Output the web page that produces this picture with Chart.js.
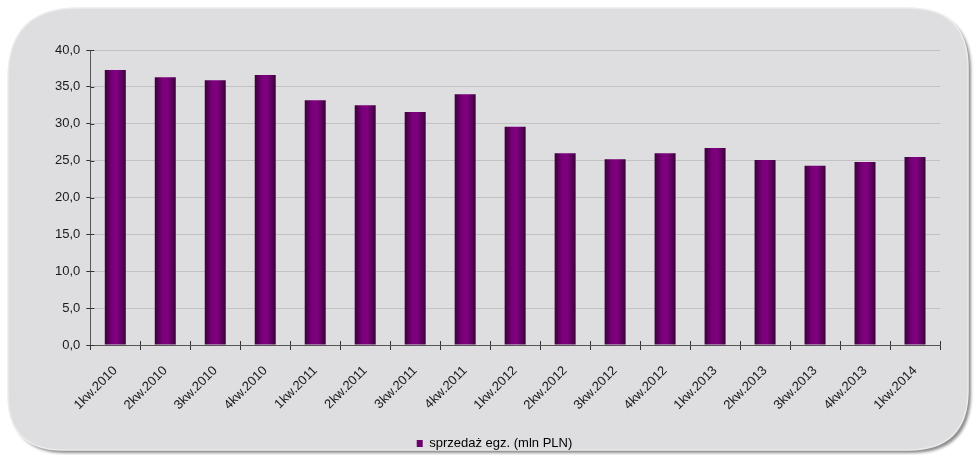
<!DOCTYPE html>
<html>
<head>
<meta charset="utf-8">
<script src="https://cdn.jsdelivr.net/npm/chart.js@4.4.1/dist/chart.umd.min.js"></script>
<style>
  html, body { margin: 0; padding: 0; background: #ffffff; }
  #wrap { width: 974px; height: 455px; position: relative; }
</style>
</head>
<body>
<div id="wrap"><canvas id="salesChart" width="974" height="455"></canvas></div>
<script>
// Quarter labels and sales values (mln PLN)
const quarters = ['1kw.2010', '2kw.2010', '3kw.2010', '4kw.2010', '1kw.2011', '2kw.2011', '3kw.2011', '4kw.2011',
    '1kw.2012', '2kw.2012', '3kw.2012', '4kw.2012', '1kw.2013', '2kw.2013', '3kw.2013', '4kw.2013', '1kw.2014'];
const sales = [37.3, 36.3, 35.9, 36.6, 33.2, 32.5, 31.6, 34.0, 29.6, 26.0, 25.2, 26.0, 26.7, 25.1, 24.3, 24.8, 25.5];
const seriesLabel = 'sprzedaż egz. (mln PLN)';

const BAR_FRACTION = 0.42;
const FONT = 'Liberation Sans, Arial, sans-serif';

// Rounded grey panel behind the chart
const panelPlugin = {
    id: 'panel',
    beforeDraw(chart) {
        const ctx = chart.ctx;
        const x = 8, y = 8, w = 960, h = 442;
        const rTL = 70, rTR = 60, rBR = 60, rBL = 55;
        ctx.save();
        ctx.beginPath();
        ctx.moveTo(x + rTL, y);
        ctx.lineTo(x + w - rTR, y);
        ctx.quadraticCurveTo(x + w, y, x + w, y + rTR);
        ctx.lineTo(x + w, y + h - rBR);
        ctx.quadraticCurveTo(x + w, y + h, x + w - rBR, y + h);
        ctx.lineTo(x + rBL, y + h);
        ctx.quadraticCurveTo(x, y + h, x, y + h - rBL);
        ctx.lineTo(x, y + rTL);
        ctx.quadraticCurveTo(x, y, x + rTL, y);
        ctx.closePath();
        ctx.shadowColor = 'rgba(0,0,0,0.45)';
        ctx.shadowOffsetX = 3;
        ctx.shadowOffsetY = 3;
        ctx.shadowBlur = 3;
        ctx.fillStyle = '#dedee0';
        ctx.fill();
        ctx.shadowColor = 'transparent';
        ctx.lineWidth = 1.5;
        ctx.strokeStyle = '#ececec';
        ctx.stroke();
        ctx.restore();
    }
};

// ticks in the original cross the axis lines, draw the inner half
const innerTicksPlugin = {
    id: 'innerTicks',
    afterDraw(chart) {
        const y = chart.scales.y;
        const x = chart.scales.x;
        const ctx = chart.ctx;
        ctx.save();
        ctx.strokeStyle = '#333333';
        ctx.lineWidth = 1;
        y.ticks.forEach(t => {
            const py = Math.round(y.getPixelForValue(t.value)) + 0.5;
            ctx.beginPath();
            ctx.moveTo(y.right, py);
            ctx.lineTo(y.right + 4, py);
            ctx.stroke();
        });
        const step = x.width / quarters.length;
        for (let i = 1; i <= quarters.length; i++) {
            const px = Math.round(x.left + step * i) + 0.5;
            ctx.beginPath();
            ctx.moveTo(px, x.top);
            ctx.lineTo(px, x.top - 4);
            ctx.stroke();
        }
        ctx.restore();
    }
};

// Horizontal gradient per bar: dark edges, bright centre
function barGradient(context) {
    const chart = context.chart;
    const xScale = chart.scales.x;
    if (!xScale || context.dataIndex === undefined) return '#7a0079';
    const cx = xScale.getPixelForValue(context.dataIndex);
    const half = (xScale.width / quarters.length) * BAR_FRACTION / 2;
    const g = chart.ctx.createLinearGradient(cx - half, 0, cx + half, 0);
    g.addColorStop(0, '#3a003a');
    g.addColorStop(0.35, '#7a007a');
    g.addColorStop(0.6, '#800080');
    g.addColorStop(1, '#3a003a');
    return g;
}

const ctx = document.getElementById('salesChart').getContext('2d');
new Chart(ctx, {
    type: 'bar',
    data: {
        labels: quarters,
        datasets: [{
            label: seriesLabel,
            data: sales,
            backgroundColor: barGradient,
            borderWidth: 0,
            categoryPercentage: 1,
            barPercentage: BAR_FRACTION
        }]
    },
    options: {
        responsive: false,
        animation: false,
        layout: { padding: { left: 49, right: 34, top: 50, bottom: -5 } },
        scales: {
            x: {
                offset: true,
                afterFit: axis => { axis.height = 92; },
                grid: {
                    offset: true,
                    drawOnChartArea: false,
                    color: '#333333',
                    tickLength: 5
                },
                border: { color: '#555555', width: 1 },
                ticks: {
                    minRotation: 45,
                    maxRotation: 45,
                    color: '#1a1a1a',
                    padding: 13,
                    font: { family: FONT, size: 13 }
                }
            },
            y: {
                min: 0,
                max: 40,
                grid: {
                    color: '#c2c2c2',
                    tickColor: '#333333',
                    tickLength: 4
                },
                border: { color: '#555555', width: 1 },
                ticks: {
                    stepSize: 5,
                    color: '#1a1a1a',
                    padding: 6,
                    font: { family: FONT, size: 13 },
                    callback: v => v.toFixed(1).replace('.', ',')
                }
            }
        },
        plugins: {
            legend: {
                position: 'bottom',
                labels: {
                    boxWidth: 6,
                    boxHeight: 7,
                    color: '#1a1a1a',
                    padding: 0,
                    font: { family: FONT, size: 13 },
                    generateLabels: () => [{
                        text: seriesLabel,
                        fillStyle: '#6d006d',
                        strokeStyle: '#6d006d',
                        lineWidth: 0,
                        datasetIndex: 0
                    }]
                }
            },
            tooltip: { enabled: false }
        }
    },
    plugins: [panelPlugin, innerTicksPlugin]
});
</script>
</body>
</html>
